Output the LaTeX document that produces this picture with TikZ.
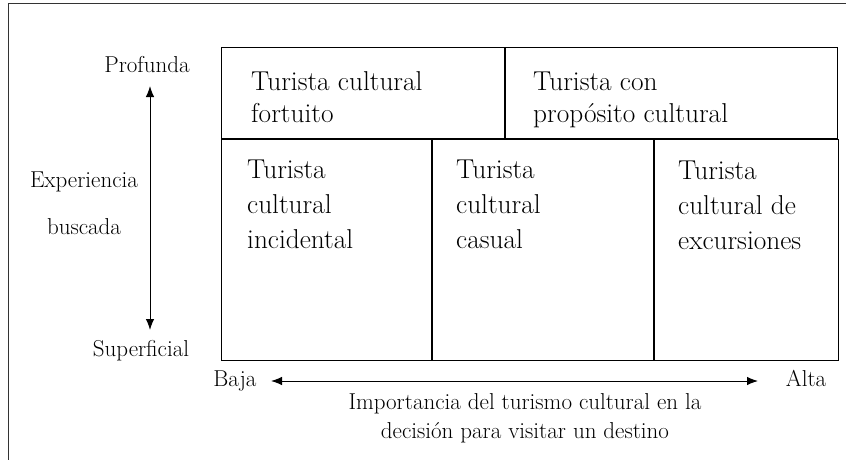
\documentclass[tikz,border=0pt]{standalone}
\usepackage{tikz}
\usetikzlibrary{positioning, arrows.meta, calc}

\begin{document}
\begin{tikzpicture}[x=1pt, y=-1pt]
		\tikzstyle{box}=[draw=black, line width=1pt, inner sep=0pt, anchor=north west]
		\tikzstyle{cell}=[inner sep=0pt, align=left, anchor=north west, font=\fontsize{27.3}{35}\selectfont]
		\tikzstyle{lab}=[inner sep=0pt, anchor=base, font=\fontsize{23}{29}\selectfont]
		\tikzstyle{axis}=[{Latex[length=11pt, width=8.5pt]}-{Latex[length=11pt, width=8.5pt]}, line width=1pt]
		
		\useasboundingbox (0,0) rectangle (846,460);
		\draw[line width=1pt, black!80] (846,4) -- (8,4) -- (8,460);
		
		% top row
		\node (cfort) at (221,47) [box, minimum width=283, minimum height=91] {};
		\node (cprop) at (cfort.north east) [box, minimum width=332, minimum height=91] {};
		% bottom row
		\node (cinc) at (cfort.south west) [box, minimum width=210, minimum height=221] {};
		\node (ccas) at (cinc.north east) [box, minimum width=221, minimum height=221] {};
		\node (cexc) at (ccas.north east) [box, minimum width=184, minimum height=221] {};
		
		\node (tfort) at ([shift={(30,24)}]cfort.north west) [cell, font=\fontsize{27.3}{32}\selectfont] {Turista cultural\\fortuito};
		\node (tprop) at ([shift={(28,24.4)}]cprop.north west) [cell, font=\fontsize{27.3}{32}\selectfont] {Turista con\\propósito cultural};
		\node (tinc) at ([shift={(26,21)}]cinc.north west) [cell] {Turista\\cultural\\incidental};
		\node (tcas) at ([shift={(24,21)}]ccas.north west) [cell] {Turista\\cultural\\casual};
		\node (texc) at ([shift={(24,21.5)}]cexc.north west) [cell] {Turista\\cultural de\\excursiones};
		
		% vertical axis
		\node (prof) at (147,73) [lab] {Profunda};
		\node (sup) at (141,356) [lab] {Superficial};
		\node (exp) at (84,187) [lab] {Experiencia};
		\node (busc) at (84,234) [lab] {buscada};
		\coordinate (vtop) at (150,86);
		\coordinate (vbot) at (150,330);
		\draw[axis] (vtop) -- (vbot);
		
		% horizontal axis
		\node (baja) at (235,386) [lab] {Baja};
		\node (alta) at (806,386) [lab] {Alta};
		\coordinate (hleft) at (271,381);
		\coordinate (hright) at (758,381);
		\draw[axis] (hleft) -- (hright);
		\node (imp) at (525,393) [lab, anchor=north, align=center] {Importancia del turismo cultural en la\\decisión para visitar un destino};
		
\end{tikzpicture}
\end{document}
